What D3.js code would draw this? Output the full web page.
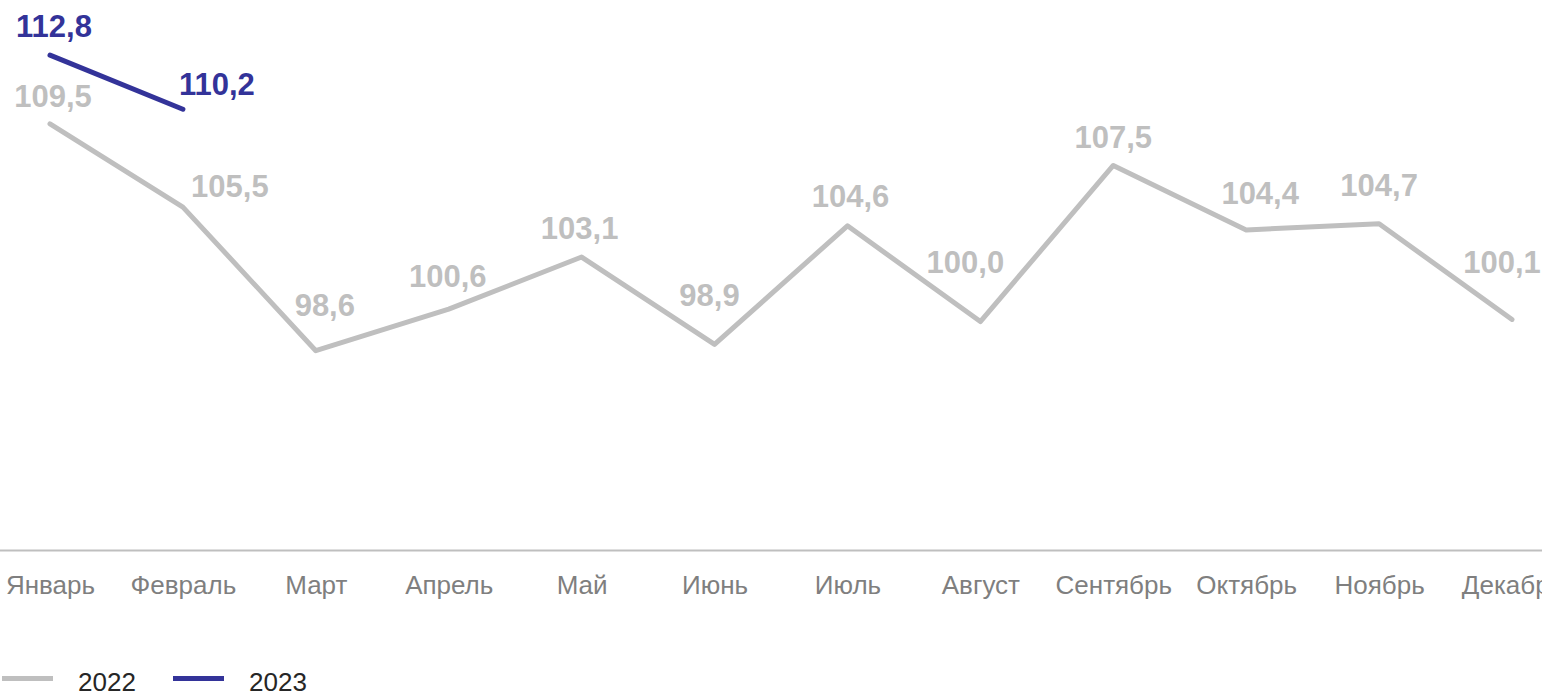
<!DOCTYPE html>
<html><head><meta charset="utf-8">
<script src="https://cdn.jsdelivr.net/npm/d3@7/dist/d3.min.js"></script>
<style>html,body{margin:0;padding:0;background:#fff;overflow:hidden}</style>
</head><body>
<svg id="chart" width="1542" height="691"></svg>
<script>
const months = ["Январь","Февраль","Март","Апрель","Май","Июнь","Июль","Август","Сентябрь","Октябрь","Ноябрь","Декабрь"];
const values2022 = [109.5,105.5,98.6,100.6,103.1,98.9,104.6,100.0,107.5,104.4,104.7,100.1];
const values2023 = [112.8,110.2];
const seriesNames = ["2022","2023"];

// layout (label nudges, px)
const shift2022 = [[3,-17],[47,-10],[9,-35],[-1,-22],[-2,-18],[-5,-38],[3,-19],[-15,-49],[0,-17],[14,-26],[0,-28],[-10,-46]];
const shift2023 = [[4,-18],[34,-14]];
const colors = ["#bfbfbf","#333399"];

const svg = d3.select("#chart");
const x = d3.scalePoint().domain(months).range([50,1512]);
const y = d3.scaleLinear().domain([89,113]).range([550.5,51]);
const fmt = v => d3.format(".1f")(v).replace(".", ",");

// axis
const ax = svg.append("g").attr("transform","translate(0,550.5)")
  .call(d3.axisBottom(x).tickSize(0).tickPadding(0));
ax.select(".domain").attr("d","M-20,0H1600").attr("stroke","#bfbfbf").attr("stroke-width",2);
ax.selectAll("text").attr("dy",null).attr("y",43)
  .attr("font-family","Liberation Sans, Arial, sans-serif").attr("font-size",26).attr("fill","#7f7f7f");

const line = d3.line().x((d,i)=>x(months[i])).y(d=>y(d));
[values2022, values2023].forEach((vals,k)=>{
  svg.append("path").datum(vals).attr("d",line).attr("fill","none")
    .attr("stroke",colors[k]).attr("stroke-width",5)
    .attr("stroke-linecap","round").attr("stroke-linejoin","round");
});
[[values2022,shift2022],[values2023,shift2023]].forEach(([vals,sh],k)=>{
  svg.append("g").selectAll("text").data(vals).join("text")
    .attr("x",(d,i)=>x(months[i])+sh[i][0])
    .attr("y",(d,i)=>y(d)+sh[i][1])
    .attr("text-anchor","middle")
    .attr("font-family","Liberation Sans, Arial, sans-serif")
    .attr("font-weight","bold").attr("font-size",31)
    .attr("fill",colors[k]).text(fmt);
});

// legend
const leg = svg.append("g");
const legX = [[2,78],[173,249]];
seriesNames.forEach((n,k)=>{
  leg.append("line").attr("x1",legX[k][0]).attr("x2",legX[k][0]+51)
    .attr("y1",678.5).attr("y2",678.5).attr("stroke",colors[k]).attr("stroke-width",5);
  leg.append("text").attr("x",legX[k][1]).attr("y",691)
    .attr("font-family","Liberation Sans, Arial, sans-serif").attr("font-size",26)
    .attr("fill","#262626").text(n);
});
</script>
</body></html>
